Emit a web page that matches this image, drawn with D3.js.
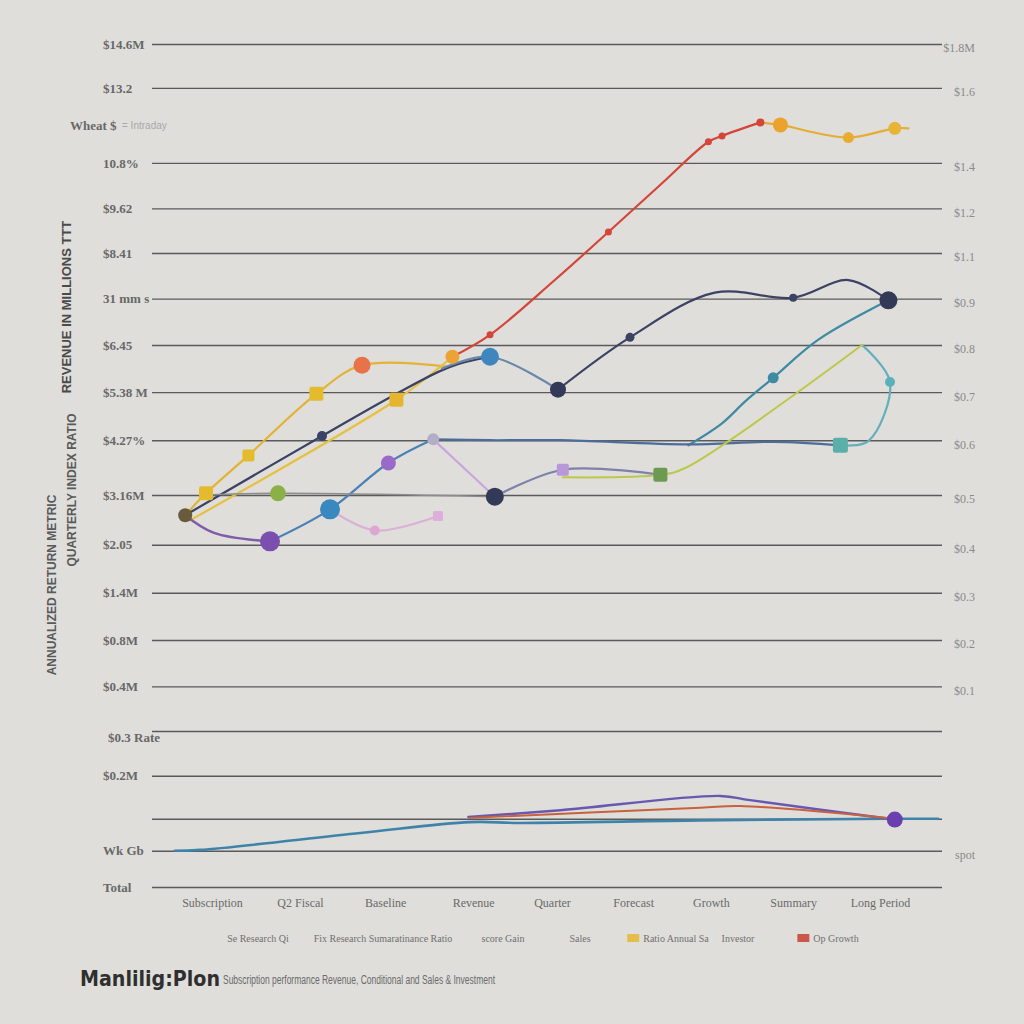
<!DOCTYPE html>
<html>
<head>
<meta charset="utf-8">
<script src="https://cdn.jsdelivr.net/npm/d3@7"></script>
<style>
  html, body { margin: 0; padding: 0; background: #dfdedb; }
  svg { display: block; }
</style>
</head>
<body>
<svg id="chart" width="1024" height="1024"></svg>
<script>
// ---------------- DATA ----------------
const yTickValues = [100, 94.8, 85.9, 80.5, 75.2, 69.8, 64.3, 58.7, 53.0, 46.5, 40.6, 34.9, 29.3, 23.8, 18.5, 13.2, 8.1, 4.3, 0];
const yTickLabelsLeft = ["$14.6M", "$13.2", "10.8%", "$9.62", "$8.41", "31 mm s", "$6.45", "$5.38 M", "$4.27%", "$3.16M", "$2.05", "$1.4M", "$0.8M", "$0.4M", "", "$0.2M", "", "Wk  Gb", "Total"];
const yTickLabelsRight = ["$1.8M", "$1.6", "$1.4", "$1.2", "$1.1", "$0.9", "$0.8", "$0.7", "$0.6", "$0.5", "$0.4", "$0.3", "$0.2", "$0.1", "", "", "", "spot", ""];
const extraLeftLabels = [{ text: "Wheat $", v: 90.3 }, { text: "$0.3 Rate", v: 17.7 }];
const yAxisTitles = ["REVENUE IN MILLIONS TTT", "QUARTERLY INDEX RATIO", "ANNUALIZED RETURN METRIC"];

const xCategoryLabels = ["Subscription", "Q2 Fiscal", "Baseline", "Revenue", "Quarter", "Forecast", "Growth", "Summary", "Long Period"];
const xCategoryPositions = [7.75, 18.75, 29.4, 40.4, 50.25, 60.4, 70.1, 80.4, 91.25];

const legendLabels = ["Se Research  Qi", "Fix Research  Sumaratinance  Ratio", "score  Gain", "Sales", "Ratio  Annual  Sa", "Investor", "Op Growth"];

const titleText = "Manlilig:Plon";
const subtitleText = "Subscription performance  Revenue, Conditional and Sales & Investment";

// series: x values and y values (same units as the axes)
const goldX = [4.4, 7, 12.3, 20.8, 26.5, 37.5];
const goldY = [44.1, 46.7, 51.2, 58.5, 61.9, 61.7];
const yellowRiseX = [5, 30.8, 37.8];
const yellowRiseY = [43.5, 57.8, 62.9];
const redX = [37.8, 42.5, 50.6, 57.3, 63.8, 69.8, 71.5, 76.3];
const redY = [62.9, 65.5, 72.0, 77.7, 83.3, 88.4, 89.1, 90.7];
const goldEndX = [76.3, 78.8, 87.3, 93.1, 94.8];
const goldEndY = [90.7, 90.4, 88.9, 90.0, 90.0];
const navyX = [4.4, 21.5, 30.6, 37.5, 42.5];
const navyY = [44.1, 53.5, 58.4, 61.7, 62.9];
const blueSegX = [36.5, 42.5, 51];
const blueSegY = [61.5, 62.9, 59.0];
const navy2X = [51, 60, 70.6, 80.4, 87.3, 92.3];
const navy2Y = [59.0, 65.2, 70.5, 69.9, 72.0, 69.6];
const tealX = [67.3, 71.5, 74.4, 77.9, 83.5, 92.3];
const tealY = [52.4, 55.0, 57.6, 60.4, 64.9, 69.6];
const blueRiseX = [15, 22.5, 29.8, 35.4];
const blueRiseY = [41.0, 44.8, 50.3, 53.1];
const blueFlatX = [35.4, 42.5, 51.3, 67.3, 78, 86.3];
const blueFlatY = [53.1, 53.0, 53.0, 52.5, 52.8, 52.4];
const tealLoopX = [86.3, 89.8, 92.5, 89];
const tealLoopY = [52.4, 52.9, 59.9, 64.3];
const lilacX = [35.4, 43.1];
const lilacY = [53.1, 46.3];
const pinkX = [22.5, 28.1, 36];
const pinkY = [44.8, 42.3, 44.0];
const slateX = [43.1, 51.6, 63.8];
const slateY = [46.3, 49.5, 48.9];
const yellowGreenX = [51.6, 63.8, 66.9, 89];
const yellowGreenY = [48.6, 48.9, 49.7, 64.3];
const grayX = [7, 16, 43.1];
const grayY = [46.5, 46.7, 46.3];
const purpleCurveX = [4.4, 8, 15];
const purpleCurveY = [44.1, 42.0, 41.0];
const bottomBlueX = [3.1, 6.3, 26.3, 40, 46.3, 68.8, 92.5, 98.5];
const bottomBlueY = [4.3, 4.4, 6.4, 7.7, 7.6, 7.9, 8.1, 8.1];
const bottomPurpleX = [39.8, 51.3, 71.3, 75, 93.1];
const bottomPurpleY = [8.3, 9.1, 10.8, 10.3, 8.0];
const bottomRedX = [40, 68.8, 73.8, 93.1];
const bottomRedY = [8.2, 9.4, 9.6, 8.1];

// marker points: [x, y]
const markerX = [4.4, 7, 12.3, 20.8, 26.5, 30.8, 37.8, 42.5, 57.3, 69.8, 71.5, 76.3, 78.8, 87.3, 93.1,
                 21.5, 42.5, 51, 60, 80.4, 92.3, 77.9, 15, 22.5, 29.8, 35.4, 86.3, 92.5, 43.1, 28.1, 36, 51.6, 63.8, 16, 93.1];
const markerY = [44.1, 46.7, 51.2, 58.5, 61.9, 57.8, 62.9, 65.5, 77.7, 88.4, 89.1, 90.7, 90.4, 88.9, 90.0,
                 53.5, 62.9, 59.0, 65.2, 69.9, 69.6, 60.4, 41.0, 44.8, 50.3, 53.1, 52.4, 59.9, 46.3, 42.3, 44.0, 49.5, 48.9, 46.7, 8.0];

// ---------------- STYLE ----------------
const W = 1024, H = 1024;
const plot = { left: 150, right: 950, top: 44, bottom: 887 };
const gridX0 = 152, gridX1 = 942;

const seriesStyles = [
  { x: goldX, y: goldY, color: "#e2b336", w: 2.2 },
  { x: yellowRiseX, y: yellowRiseY, color: "#e6c040", w: 2.2 },
  { x: redX, y: redY, color: "#d4453a", w: 2.2 },
  { x: goldEndX, y: goldEndY, color: "#e5ad34", w: 2.2 },
  { x: navyX, y: navyY, color: "#3b4263", w: 2.2 },
  { x: blueSegX, y: blueSegY, color: "#6888a8", w: 2.2 },
  { x: navy2X, y: navy2Y, color: "#3b4263", w: 2.2 },
  { x: tealX, y: tealY, color: "#3e8aa3", w: 2.2 },
  { x: blueRiseX, y: blueRiseY, color: "#4a80b8", w: 2.2 },
  { x: blueFlatX, y: blueFlatY, color: "#4d6c9c", w: 2.2 },
  { x: tealLoopX, y: tealLoopY, color: "#62b0bc", w: 2.2 },
  { x: lilacX, y: lilacY, color: "#caa6dc", w: 2.2 },
  { x: pinkX, y: pinkY, color: "#dcb0d6", w: 2.2 },
  { x: slateX, y: slateY, color: "#7c82aa", w: 2.2 },
  { x: yellowGreenX, y: yellowGreenY, color: "#bcc84a", w: 2.0 },
  { x: grayX, y: grayY, color: "#8c8c8c", w: 1.6 },
  { x: purpleCurveX, y: purpleCurveY, color: "#7d5ca8", w: 2.4 },
  { x: bottomBlueX, y: bottomBlueY, color: "#3f83aa", w: 2.6 },
  { x: bottomPurpleX, y: bottomPurpleY, color: "#6858b0", w: 2.4 },
  { x: bottomRedX, y: bottomRedY, color: "#c9603e", w: 2.0 }
];

// marker styles aligned with marker arrays: [shape, radius, colour]
const markerStyles = [
  ["c", 7, "#6a5a3c"], ["s", 7, "#e4bb2c"], ["s", 6, "#e4bb2c"], ["s", 7, "#e4bb2c"], ["c", 8.5, "#e8734a"], ["s", 7, "#e6b530"], ["c", 7, "#eca234"],
  ["c", 3.5, "#d4453a"], ["c", 3.5, "#d4453a"], ["c", 3.5, "#d4453a"], ["c", 3.5, "#d4453a"], ["c", 4, "#d4453a"], ["c", 7.5, "#eca32e"], ["c", 5.5, "#e8ad30"], ["c", 6.5, "#e8b438"],
  ["c", 5, "#3b4263"], ["c", 9, "#3f86bf"], ["c", 8, "#333a58"], ["c", 4.5, "#3b4263"], ["c", 4, "#3b4263"], ["c", 9, "#333a58"], ["c", 5.5, "#3e8aa3"],
  ["c", 10, "#7b4fb0"], ["c", 10, "#3a88c0"], ["c", 7.5, "#9a6ac8"], ["c", 6, "#b4adc6"], ["s", 7.5, "#5ab0a8"], ["c", 5, "#5cb0bc"],
  ["c", 9, "#333a58"], ["c", 5, "#dca8d2"], ["s", 5, "#dcb0da"], ["s", 6, "#b898d8"], ["s", 7, "#6c9a50"], ["c", 8, "#8cb048"], ["c", 8, "#6a40b0"]
];

// ---------------- DRAW ----------------
const svg = d3.select("#chart");
svg.append("rect").attr("width", W).attr("height", H).attr("fill", "#dfdedb");

const x = d3.scaleLinear().domain([0, 100]).range([plot.left, plot.right]);
const y = d3.scaleLinear().domain([0, 100]).range([plot.bottom, plot.top]);

// grid lines via an axis
const grid = svg.append("g").attr("transform", `translate(${gridX1},0)`)
  .call(d3.axisLeft(y).tickValues(yTickValues).tickSize(gridX1 - gridX0).tickFormat(""));
grid.select(".domain").remove();
grid.selectAll(".tick line").attr("stroke", "#5a5a5a").attr("stroke-width", 1.4);

// left labels
const leftAxis = svg.append("g").attr("transform", "translate(103,0)")
  .call(d3.axisRight(y).tickValues(yTickValues).tickSize(0).tickFormat((d, i) => yTickLabelsLeft[i]));
leftAxis.select(".domain").remove();
leftAxis.selectAll("text").attr("x", 0).attr("font-family", "Liberation Serif").attr("font-weight", "bold")
  .attr("font-size", 13).attr("fill", "#686868");

extraLeftLabels.forEach(d => {
  svg.append("text").attr("x", d.v > 50 ? 70 : 108).attr("y", y(d.v)).attr("dy", "0.35em")
    .attr("font-family", "Liberation Serif").attr("font-weight", "bold").attr("font-size", 13)
    .attr("fill", "#686868").text(d.text);
});
svg.append("text").attr("x", 122).attr("y", y(90.3)).attr("dy", "0.35em")
  .attr("font-family", "Liberation Sans").attr("font-size", 10).attr("fill", "#a8a8a8").text("= Intraday");

// right labels
const rightAxis = svg.append("g").attr("transform", "translate(975,4)")
  .call(d3.axisLeft(y).tickValues(yTickValues).tickSize(0).tickFormat((d, i) => yTickLabelsRight[i]));
rightAxis.select(".domain").remove();
rightAxis.selectAll("text").attr("x", 0).attr("font-family", "Liberation Serif")
  .attr("font-size", 12).attr("fill", "#8a8a8a");

// rotated axis titles
const titlePos = [[66, 307, "#4a4a4a", 13], [72, 490, "#5a5a5a", 12], [52, 585, "#5a5a5a", 12]];
yAxisTitles.forEach((t, i) => {
  const p = titlePos[i];
  svg.append("text").attr("transform", `translate(${p[0]},${p[1]}) rotate(-90)`)
    .attr("text-anchor", "middle").attr("dy", "0.35em")
    .attr("font-family", "Liberation Sans Narrow, Liberation Sans").attr("font-weight", "bold")
    .attr("font-size", p[3]).attr("fill", p[2]).text(t);
});

// series lines
const line = d3.line().x(d => x(d[0])).y(d => y(d[1])).curve(d3.curveCatmullRom.alpha(0.5));
seriesStyles.forEach(s => {
  const pts = s.x.map((v, i) => [v, s.y[i]]);
  svg.append("path").datum(pts).attr("d", line).attr("fill", "none")
    .attr("stroke", s.color).attr("stroke-width", s.w).attr("stroke-linecap", "round").attr("stroke-linejoin", "round");
});

// markers
markerX.forEach((mx, i) => {
  const st = markerStyles[i];
  const cx = x(mx), cy = y(markerY[i]), r = st[1];
  if (st[0] === "s") {
    svg.append("rect").attr("x", cx - r).attr("y", cy - r).attr("width", 2 * r).attr("height", 2 * r)
      .attr("rx", r * 0.3).attr("fill", st[2]);
  } else {
    svg.append("circle").attr("cx", cx).attr("cy", cy).attr("r", r).attr("fill", st[2]);
  }
});

// x axis labels
const xAxis = svg.append("g").attr("transform", "translate(0,903)")
  .call(d3.axisBottom(x).tickValues(xCategoryPositions).tickSize(0).tickFormat((d, i) => xCategoryLabels[i]));
xAxis.select(".domain").remove();
xAxis.selectAll("text").attr("y", 0).attr("dy", "0.35em").attr("font-family", "Liberation Serif")
  .attr("font-size", 12).attr("fill", "#6a6a6a");

// legend
const legendXs = [258, 383, 503, 580, 676, 738, 836];
const legendColors = ["#888", "#888", "#888", "#888", "#e6b830", "#888", "#c8402e"];
legendLabels.forEach((t, i) => {
  const g = svg.append("g").attr("transform", `translate(${legendXs[i]},938)`);
  const txt = g.append("text").attr("text-anchor", "middle").attr("dy", "0.35em")
    .attr("font-family", "Liberation Serif").attr("font-size", 10).attr("fill", "#707070").text(t);
  if (legendColors[i] !== "#888") {
    const bb = txt.node().getBBox();
    g.append("rect").attr("x", bb.x - 16).attr("y", -4).attr("width", 12).attr("height", 8)
      .attr("fill", legendColors[i]).attr("opacity", 0.85);
  }
});

// title
svg.append("text").attr("x", 80).attr("y", 986).attr("font-family", "DejaVu Sans").attr("font-weight", "bold")
  .attr("font-size", 21).attr("fill", "#2f2f2f").attr("textLength", 140).attr("lengthAdjust", "spacingAndGlyphs").text(titleText);
svg.append("text").attr("x", 223).attr("y", 984).attr("font-family", "Liberation Sans Narrow, Liberation Sans")
  .attr("font-size", 12).attr("fill", "#6a6a6a").attr("textLength", 272).attr("lengthAdjust", "spacingAndGlyphs").text(subtitleText);
</script>
</body>
</html>
